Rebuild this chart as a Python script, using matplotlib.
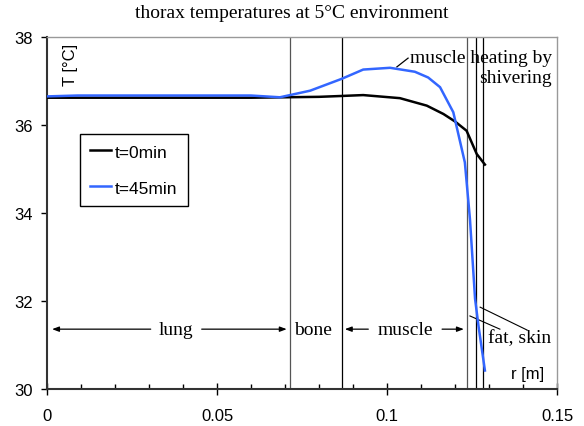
import matplotlib
matplotlib.use("Agg")
import matplotlib.pyplot as plt

# ---- data ----
r_t0 = [0.0, 0.01, 0.02, 0.03, 0.04, 0.05, 0.06, 0.07, 0.08, 0.0867, 0.093, 0.1038,
        0.1117, 0.1166, 0.12, 0.1234, 0.1264, 0.1288]
T_t0 = [36.62, 36.62, 36.62, 36.62, 36.62, 36.62, 36.62, 36.63, 36.64, 36.66, 36.68, 36.61,
        36.44, 36.25, 36.08, 35.87, 35.34, 35.10]

r_t45 = [0.0, 0.009, 0.02, 0.03, 0.04, 0.05, 0.06, 0.0685, 0.0774, 0.0867, 0.093, 0.1009,
         0.1082, 0.1121, 0.1156, 0.1195, 0.1229, 0.1244, 0.1259, 0.1269, 0.1288]
T_t45 = [36.65, 36.67, 36.67, 36.67, 36.67, 36.67, 36.67, 36.63, 36.78, 37.05, 37.26, 37.30,
         37.21, 37.08, 36.86, 36.29, 35.15, 33.86, 32.05, 31.44, 30.42]

layer_bounds = [0.0714, 0.0867, 0.1234, 0.1261, 0.1283]
series_labels = ["t=0min", "t=45min"]
title = "thorax temperatures at 5°C environment"
xticks = [0, 0.05, 0.1, 0.15]
xticklabels = ["0", "0.05", "0.1", "0.15"]
yticks = [30, 32, 34, 36, 38]

SANS = ["Liberation Sans", "DejaVu Sans"]
SERIF = ["Liberation Serif", "DejaVu Serif"]

fig = plt.figure(figsize=(5.84, 4.27), dpi=100)
ax = fig.add_axes([47/584, 1-390/427, (557-47)/584, (390-38)/427])

ax.set_xlim(0, 0.15)
ax.set_ylim(30, 38)

bound_colors = ["#555555", "black", "#555555", "black", "black"]
for b, c in zip(layer_bounds, bound_colors):
    ax.axvline(b, color=c, lw=0.9, zorder=1)

ax.plot(r_t0, T_t0, color="black", lw=1.8, label=series_labels[0], zorder=3)
ax.plot(r_t45, T_t45, color="#3366ff", lw=1.8, label=series_labels[1], zorder=3)

ax.set_xticks(xticks)
ax.set_xticklabels(xticklabels, family=SANS, fontsize=12)
ax.set_xticks([i*0.01 for i in range(16)], minor=True)
ax.set_yticks(yticks)
ax.set_yticklabels([str(y) for y in yticks], family=SANS, fontsize=12)
ax.tick_params(axis="x", which="major", direction="inout", length=8, width=1, pad=10)
ax.tick_params(axis="x", which="minor", direction="in", length=3.5, width=1)
ax.tick_params(axis="y", which="major", direction="out", length=4, width=1, pad=6)

for s in ["left", "bottom"]:
    ax.spines[s].set_color("#333333")
    ax.spines[s].set_linewidth(1.5)
for s in ["top", "right"]:
    ax.spines[s].set_color("#999999")
    ax.spines[s].set_linewidth(1.0)

fig.text(0.5, 1-13/427, title, ha="center", va="center", family=SERIF, fontsize=14)

ax.text(0.0068, 37.39, "T [°C]", rotation=90, ha="center", va="center", family=SANS, fontsize=12)
ax.text(0.1412, 30.36, "r [m]", ha="center", va="center", family=SANS, fontsize=12)

leg = ax.legend(loc="upper left", bbox_to_anchor=((80-47)/510, (390-135)/352),
                borderaxespad=0,
                frameon=True, fancybox=False, edgecolor="black", framealpha=1,
                handlelength=1.2, handletextpad=0.2, borderpad=0.6, labelspacing=1.2,
                prop={"family": SANS, "size": 12.5})
leg.get_frame().set_linewidth(1.0)

# region annotations
ay = 31.36
arrow_kw = dict(arrowstyle="-|>,head_length=0.4,head_width=0.15", color="black", lw=0.9,
                shrinkA=0, shrinkB=0)
ax.annotate("", xy=(0.0015, ay), xytext=(0.0305, ay), arrowprops=arrow_kw)
ax.annotate("", xy=(0.0705, ay), xytext=(0.0455, ay), arrowprops=arrow_kw)
ax.text(0.038, ay, "lung", ha="center", va="center", family=SERIF, fontsize=14)
ax.text(0.0782, ay, "bone", ha="center", va="center", family=SERIF, fontsize=14)
ax.annotate("", xy=(0.0876, ay), xytext=(0.0945, ay), arrowprops=arrow_kw)
ax.annotate("", xy=(0.1226, ay), xytext=(0.1162, ay), arrowprops=arrow_kw)
ax.text(0.1053, ay, "muscle", ha="center", va="center", family=SERIF, fontsize=14)

ax.plot([0.1244, 0.1332], [31.66, 31.36], color="black", lw=0.8)
ax.plot([0.1274, 0.1412], [31.86, 31.34], color="black", lw=0.8)
ax.text(0.1391, 31.16, "fat, skin", ha="center", va="center", family=SERIF, fontsize=14)

ax.plot([0.1029, 0.1062], [37.32, 37.52], color="black", lw=0.9)
ax.text(0.1485, 37.31, "muscle heating by\nshivering", ha="right", va="center",
        multialignment="right", family=SERIF, fontsize=14, linespacing=1.2)

fig.savefig("out.png", dpi=100)
